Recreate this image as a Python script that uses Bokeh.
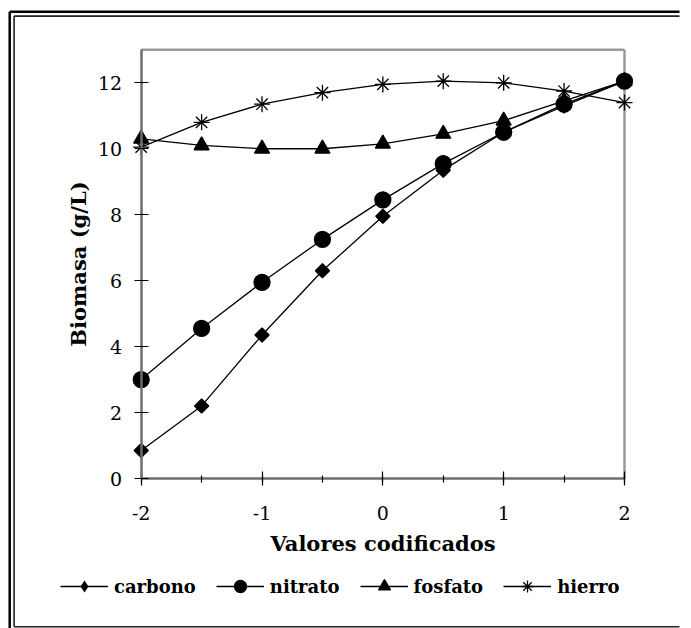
import math

from bokeh.embed import file_html
from bokeh.models import (Legend, LegendItem, PrintfTickFormatter, Range1d,
                          SingleIntervalTicker)
from bokeh.plotting import figure
from bokeh.resources import INLINE

# Coded factor levels and biomass response (g/L) for each nutrient
valores = [-2, -1.5, -1, -0.5, 0, 0.5, 1, 1.5, 2]
carbono = [0.85, 2.2, 4.35, 6.3, 7.95, 9.35, 10.5, 11.3, 12.05]
nitrato = [3.0, 4.55, 5.95, 7.25, 8.45, 9.55, 10.5, 11.35, 12.05]
fosfato = [10.3, 10.1, 10.0, 10.0, 10.15, 10.45, 10.85, 11.45, 12.05]
hierro = [10.05, 10.8, 11.35, 11.7, 11.95, 12.05, 12.0, 11.75, 11.4]

x_label = "Valores codificados"
y_label = "Biomasa (g/L)"

W, H = 691, 628
X_MIN, X_MAX = -2, 2
Y_MIN, Y_MAX = 0, 13

# Pixel placement of the axis box inside the canvas
BOX_L, BOX_R, BOX_T, BOX_B = 140.7, 624.0, 49.3, 478.0
SX = (BOX_R - BOX_L) / (X_MAX - X_MIN)
SY = (BOX_B - BOX_T) / (Y_MAX - Y_MIN)
X_LO = X_MIN - BOX_L / SX
X_HI = X_MAX + (W - BOX_R) / SX
Y_LO = Y_MIN - (H - BOX_B) / SY
Y_HI = Y_MAX + BOX_T / SY


def x_at(px):
    return X_LO + px / SX


def y_at(py):
    return Y_HI - py / SY


SERIF = "DejaVu Serif"

# The frame fills the whole canvas; the axes are pinned inside it
p = figure(
    width=W, height=H,
    x_range=Range1d(X_LO, X_HI), y_range=Range1d(Y_LO, Y_HI),
    output_backend="svg", toolbar_location=None,
    min_border_left=0, min_border_right=0,
    min_border_top=0, min_border_bottom=0,
    background_fill_color="white", border_fill_color="white",
    outline_line_color=None,
)
p.grid.visible = False

xax, yax = p.xaxis[0], p.yaxis[0]
xax.ticker = SingleIntervalTicker(interval=1, num_minor_ticks=2)
yax.ticker = SingleIntervalTicker(interval=2, num_minor_ticks=0)
xax.formatter = PrintfTickFormatter(format="%d")
yax.formatter = PrintfTickFormatter(format="%d")
xax.fixed_location = Y_MIN
yax.fixed_location = X_MIN
xax.bounds = (X_MIN, X_MAX)
yax.bounds = (Y_MIN, Y_MAX)
for ax in (xax, yax):
    ax.axis_line_color = "#6e6e6e"
    ax.axis_line_width = 2.5
    ax.major_tick_line_color = "black"
    ax.major_tick_line_width = 1.2
    ax.major_tick_in = 7
    ax.major_tick_out = 7
    ax.minor_tick_line_color = "black"
    ax.minor_tick_line_width = 1.2
    ax.minor_tick_in = 3
    ax.minor_tick_out = 4
    ax.major_label_text_font = SERIF
    ax.major_label_text_font_size = "19px"
    ax.major_label_text_color = "black"
    ax.axis_label_text_font = SERIF
    ax.axis_label_text_font_style = "bold"
    ax.axis_label_text_font_size = "21px"
    ax.axis_label_text_color = "black"
xax.axis_label = x_label
yax.axis_label = y_label
xax.major_label_standoff = 20
xax.axis_label_standoff = 8
yax.major_label_standoff = 12
yax.axis_label_standoff = 4

# Top and right edges of the axis box
p.segment(x0=[X_MIN, X_MAX], y0=[Y_MAX, Y_MIN], x1=[X_MAX, X_MAX], y1=[Y_MAX, Y_MAX],
          line_color="#999999", line_width=2.5)

# Double rule framing the figure on the left and top, single rule at the bottom
RULE_END = W - 12
p.line([x_at(9.2), x_at(9.2)], [y_at(H), y_at(11.2)],
       line_color="black", line_width=2.5, line_cap="butt")
p.line([x_at(9.2), x_at(RULE_END)], [y_at(11.2), y_at(11.2)],
       line_color="black", line_width=2.5, line_cap="butt")
p.line([x_at(13.6), x_at(13.6)], [y_at(626.3), y_at(15.6)],
       line_color="#222222", line_width=1.6, line_cap="butt")
p.line([x_at(13.6), x_at(RULE_END)], [y_at(15.6), y_at(15.6)],
       line_color="#222222", line_width=1.6, line_cap="butt")
p.line([x_at(13.6), x_at(RULE_END)], [y_at(626.3), y_at(626.3)],
       line_color="#222222", line_width=1.6, line_cap="butt")

series = [
    ("carbono", carbono, "square", 10, math.pi / 4),
    ("nitrato", nitrato, "circle", 16, 0),
    ("fosfato", fosfato, "triangle", 15, 0),
    ("hierro", hierro, "asterisk", 16, 0),
]

items = []
for name, ys, marker, size, angle in series:
    ln = p.line(valores, ys, line_color="black", line_width=1.3)
    key = None
    if angle:
        # upright diamond tucked inside each tilted square; used as the legend swatch
        key = p.scatter(valores, ys, marker="diamond", size=size * 1.4,
                        fill_color="black", line_color="black", line_width=0)
    sc = p.scatter(valores, ys, marker=marker, size=size, angle=angle,
                   fill_color="black", line_color="black", line_width=1.3)
    items.append(LegendItem(label=name, renderers=[ln, key or sc]))

legend = Legend(
    items=items, orientation="horizontal", location=(60, 27),
    glyph_width=48, glyph_height=30, label_standoff=6, spacing=20,
    padding=0, margin=0, border_line_color=None, background_fill_alpha=0,
    label_text_font=SERIF, label_text_font_style="bold",
    label_text_font_size="18px", label_text_color="black",
)
p.add_layout(legend, "center")

open("out.html", "w").write(file_html(p, INLINE))
